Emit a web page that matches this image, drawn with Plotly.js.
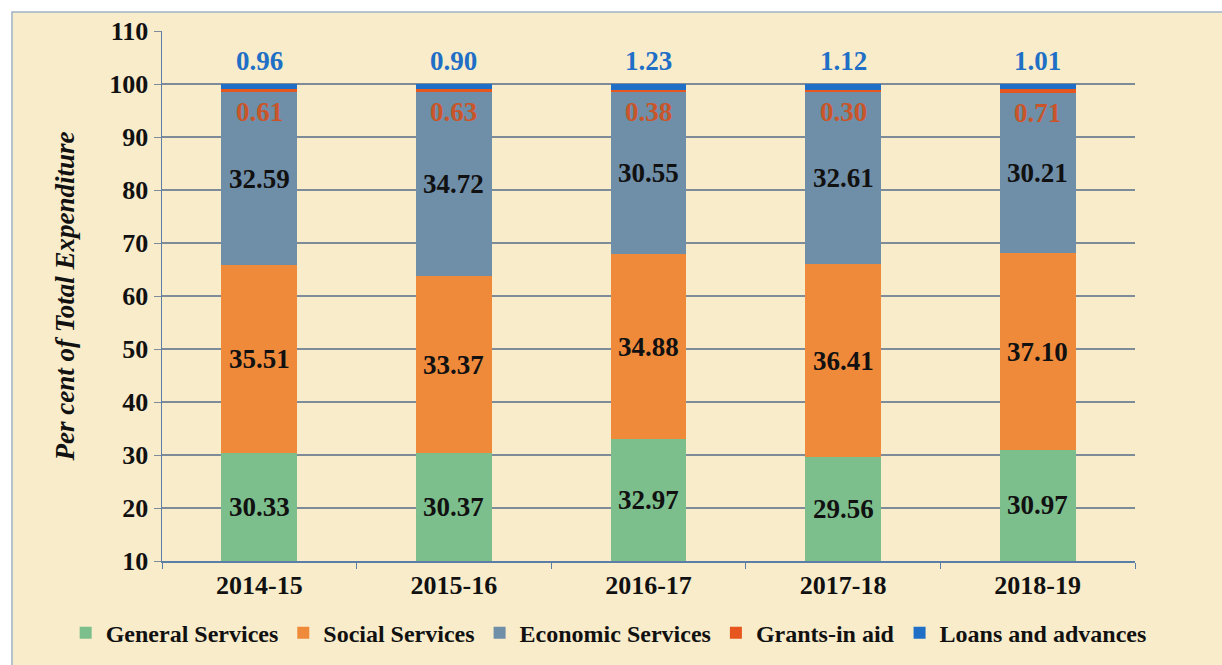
<!DOCTYPE html>
<html><head><meta charset="utf-8">
<script src="https://cdn.plot.ly/plotly-3.0.1.min.js"></script>
<style>html,body{margin:0;padding:0;background:#ffffff;overflow:hidden;}#chart{width:1222px;height:665px;}</style>
</head><body><div id="chart"></div>
<script>
const years = ["2014-15","2015-16","2016-17","2017-18","2018-19"];
const generalServices = [30.33,30.37,32.97,29.56,30.97];
const socialServices = [35.51,33.37,34.88,36.41,37.10];
const economicServices = [32.59,34.72,30.55,32.61,30.21];
const grantsInAid = [0.61,0.63,0.38,0.30,0.71];
const loansAdvances = [0.96,0.90,1.23,1.12,1.01];
const seriesNames = ["General Services","Social Services","Economic Services","Grants-in aid","Loans and advances"];
const colors = ["#7cbf8c","#ef8a3b","#6f8ea8","#e8561f","#1f6fc6"];

const all = [generalServices, socialServices, economicServices, grantsInAid, loansAdvances];
const traces = all.map((vals,i)=>({
  type:"bar", x:years, y:vals, name:seriesNames[i],
  marker:{color:colors[i], line:{width:0}}, hoverinfo:"skip"
}));

const yMin = 10;
const ann = [];
const fam = "Liberation Serif";
const lf = (c)=>({family:fam, size:27, color:c, weight:"bold"});
years.forEach((yr,k)=>{
  let base = 0;
  const tops = [];
  all.forEach(v=>{ base += v[k]; tops.push(base); });
  ann.push({x:yr, y:(yMin+tops[0])/2, text:generalServices[k].toFixed(2), showarrow:false, font:lf("#111")});
  ann.push({x:yr, y:(tops[0]+tops[1])/2, text:socialServices[k].toFixed(2), showarrow:false, font:lf("#111")});
  ann.push({x:yr, y:(tops[1]+tops[2])/2, text:economicServices[k].toFixed(2), showarrow:false, font:lf("#111")});
  ann.push({x:yr, y:tops[2], yshift:-20, text:grantsInAid[k].toFixed(2), showarrow:false, font:lf("#c9552a")});
  ann.push({x:yr, y:tops[4], yshift:23, text:loansAdvances[k].toFixed(2), showarrow:false, font:lf("#1f6fc6")});
});

const layout = {
  width:1222, height:665,
  margin:{l:162, r:87, t:31, b:104, autoexpand:false},
  paper_bgcolor:"#ffffff", plot_bgcolor:"#f8eccb",
  barmode:"stack", bargap:0.61,
  showlegend:true,
  legend:{orientation:"h", x:-0.099, xanchor:"left", y:-0.136, yanchor:"middle",
    font:{family:fam, size:24, color:"#111", weight:"bold"}, traceorder:"normal", bgcolor:"rgba(0,0,0,0)"},
  font:{family:fam, color:"#111"},
  xaxis:{type:"category", showgrid:false, showline:true, linecolor:"#5b7ea6", linewidth:1.5,
    ticks:"outside", tickson:"boundaries", ticklen:6, tickcolor:"#5b7ea6",
    tickfont:{family:fam, size:26, color:"#111", weight:"bold"}},
  yaxis:{range:[10,110], dtick:10, showgrid:true, gridcolor:"#7d8c98", gridwidth:1.2,
    showline:true, linecolor:"#5b7ea6", linewidth:1.5, ticks:"outside", ticklen:7, tickcolor:"#7d8c98",
    tickfont:{family:fam, size:26, color:"#111", weight:"bold"},
    title:{text:"Per cent of Total Expenditure", font:{family:fam, size:27, color:"#111", weight:"bold", style:"italic"}, standoff:27},
    zeroline:false},
  annotations:ann,
  shapes:[{type:"rect", xref:"paper", yref:"paper", x0:-0.1542, x1:1.2, y0:-0.3, y1:1.036, line:{color:"#9fb3c6", width:1.5}, fillcolor:"#f8eccb", layer:"below"}]
};
Plotly.newPlot("chart", traces, layout, {displayModeBar:false, staticPlot:true});
</script></body></html>
